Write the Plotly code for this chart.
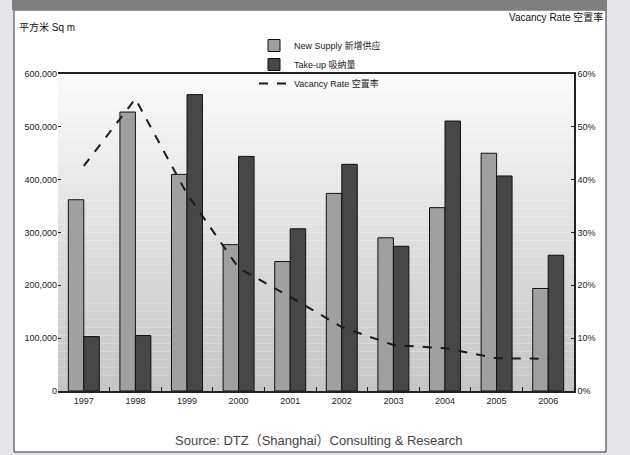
import plotly.graph_objects as go

years = ["1997", "1998", "1999", "2000", "2001", "2002", "2003", "2004", "2005", "2006"]
new_supply = [362000, 528000, 410000, 277000, 245000, 374000, 290000, 347000, 450000, 194000]
take_up = [103000, 105000, 561000, 444000, 307000, 429000, 274000, 511000, 407000, 257000]
vacancy = [42.6, 55.3, 37.3, 23.3, 17.8, 12.1, 8.7, 8.1, 6.2, 6.1]

left_ticks = [0, 100000, 200000, 300000, 400000, 500000, 600000]
left_labels = ["0", "100,000", "200,000", "300,000", "400,000", "500,000", "600,000"]
right_ticks = [0, 10, 20, 30, 40, 50, 60]
right_labels = ["0%", "10%", "20%", "30%", "40%", "50%", "60%"]

FONT = "Liberation Sans Narrow, Liberation Sans, Noto Sans CJK SC, sans-serif"

fig = go.Figure()
fig.add_trace(go.Bar(x=years, y=new_supply, name="New Supply 新增供应",
                     marker=dict(color="#a0a0a0", line=dict(color="#111111", width=1))))
fig.add_trace(go.Bar(x=years, y=take_up, name="Take-up 吸纳量",
                     marker=dict(color="#474747", line=dict(color="#111111", width=1))))
fig.add_trace(go.Scatter(x=years, y=vacancy, name="Vacancy Rate 空置率", yaxis="y2",
                         mode="lines", line=dict(color="#1a1a1a", width=2, dash="dash")))

# plot-area pixel geometry: x 58..574, y 74..391
L, R, T, B = 58, 574, 74, 391
W, H = R - L, B - T


def px(x):
    return (x - L) / W


def py(y):
    return (B - y) / H


shapes = []
# outer white panel and top dark bar
shapes.append(dict(type="rect", xref="paper", yref="paper", x0=px(14), x1=px(606), y0=py(452), y1=py(10),
                   fillcolor="white", line=dict(color="#333333", width=1), layer="below"))
shapes.append(dict(type="rect", xref="paper", yref="paper", x0=px(12), x1=px(607), y0=py(10), y1=py(-2),
                   fillcolor="#7f7f80", line=dict(width=0), layer="below"))
# gradient background of plot area
n = 40
for i in range(n):
    t = i / (n - 1)
    c = int(round(198 + (250 - 198) * t))
    shapes.append(dict(type="rect", xref="paper", yref="paper", x0=0, x1=1,
                       y0=i / n, y1=(i + 1) / n, fillcolor=f"rgb({c},{c},{c})",
                       line=dict(width=0), layer="below"))

fig.update_layout(
    width=630, height=455,
    margin=dict(l=L, r=630 - R, t=T, b=455 - B),
    paper_bgcolor="#e5e5e9",
    plot_bgcolor="#e0e0e0",
    font=dict(family=FONT, size=9, color="#222222"),
    barmode="group", bargap=0.4, bargroupgap=0.0,
    showlegend=True,
    legend=dict(x=px(254), y=py(31), xanchor="left", yanchor="top",
                bgcolor="rgba(0,0,0,0)", font=dict(size=9), tracegroupgap=0),
    xaxis=dict(showline=True, linecolor="#222222", linewidth=1.5, mirror=True,
               ticks="inside", ticklen=4, tickson="boundaries", tickcolor="#222222",
               showgrid=False, tickfont=dict(size=9)),
    yaxis=dict(range=[0, 600000], tickvals=left_ticks, ticktext=left_labels,
               showgrid=False, zeroline=False, showline=False,
               ticks="inside", ticklen=3, tickcolor="#222222", tickfont=dict(size=9)),
    yaxis2=dict(range=[0, 60], tickvals=right_ticks, ticktext=right_labels,
                overlaying="y", side="right", showgrid=False, zeroline=False,
                showline=True, linecolor="#222222", linewidth=1.5,
                ticks="inside", ticklen=3, tickcolor="#222222", tickfont=dict(size=9)),
    shapes=shapes,
    annotations=[
        dict(text="平方米 Sq m", xref="paper", yref="paper", x=px(17), y=py(27),
             xanchor="left", yanchor="middle", showarrow=False, font=dict(size=10, color="#111111")),
        dict(text="Vacancy Rate 空置率", xref="paper", yref="paper", x=px(605), y=py(17),
             xanchor="right", yanchor="middle", showarrow=False, font=dict(size=10, color="#111111")),
        dict(text="Source: DTZ（Shanghai）Consulting & Research", xref="paper", yref="paper",
             x=px(319), y=py(441), xanchor="center", yanchor="middle", showarrow=False,
             font=dict(size=13, color="#444444")),
    ],
)

fig.write_html(
    "out.html",
    config={"displayModeBar": False},
    post_script="document.body.style.margin='0';document.body.style.overflow='hidden';"
                "document.body.style.background='#e5e5e9';",
)
